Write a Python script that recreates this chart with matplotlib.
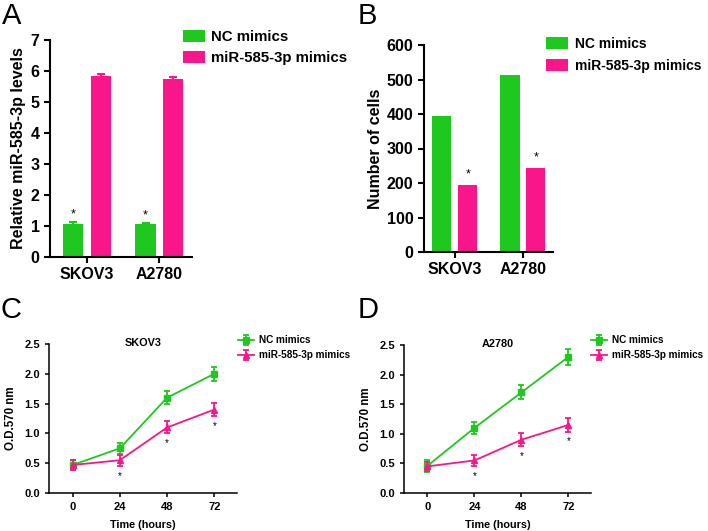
import numpy as np
import matplotlib.pyplot as plt

plt.rcParams['font.family'] = ['Liberation Sans', 'DejaVu Sans']
plt.rcParams['font.weight'] = 'bold'
plt.rcParams['axes.labelweight'] = 'bold'
plt.rcParams['axes.titleweight'] = 'bold'

GREEN = '#1ec81e'
PINK = '#f8168a'

groups = ['SKOV3', 'A2780']
labels = ['NC mimics', 'miR-585-3p mimics']

# panel A: relative miR-585-3p levels
a_nc = [1.05, 1.05]
a_nc_err = [0.07, 0.05]
a_mi = [5.85, 5.75]
a_mi_err = [0.04, 0.05]

# panel B: number of cells
b_nc = [393, 513]
b_mi = [193, 243]

# panels C, D: O.D.570 over time
hours = [0, 24, 48, 72]
c_nc = [0.47, 0.75, 1.60, 2.00]
c_nc_err = [0.09, 0.09, 0.11, 0.12]
c_mi = [0.47, 0.55, 1.10, 1.40]
c_mi_err = [0.08, 0.09, 0.10, 0.11]
d_nc = [0.46, 1.10, 1.70, 2.30]
d_nc_err = [0.10, 0.10, 0.12, 0.13]
d_mi = [0.45, 0.55, 0.90, 1.15]
d_mi_err = [0.08, 0.10, 0.11, 0.12]

W, H = 708, 531
fig = plt.figure(figsize=(W / 100, H / 100), dpi=100)


def box(l, r, t, b):
    return [l / W, 1 - b / H, (r - l) / W, (b - t) / H]


def style(ax, lw=1.5, size=11.5):
    for s in ['top', 'right']:
        ax.spines[s].set_visible(False)
    for s in ['left', 'bottom']:
        ax.spines[s].set_linewidth(lw)
    ax.tick_params(width=lw, length=4, labelsize=size)


x = np.arange(len(groups))
bw = 0.28
off = 0.19

# A
ax = fig.add_axes(box(50, 192, 40, 257))
ax.bar(x - off, a_nc, bw, color=GREEN, label=labels[0],
       yerr=a_nc_err, ecolor=GREEN, capsize=3, error_kw={'elinewidth': 1.5, 'capthick': 1.5})
ax.bar(x + off, a_mi, bw, color=PINK, label=labels[1],
       yerr=a_mi_err, ecolor=PINK, capsize=3, error_kw={'elinewidth': 1.5, 'capthick': 1.5})
for i in range(len(groups)):
    ax.text(x[i] - off, a_nc[i] + a_nc_err[i] + 0.05, '*', ha='center', va='bottom', fontsize=9, fontweight='normal')
ax.set_xlim(-0.51, 1.45)
ax.set_ylim(0, 7)
ax.set_yticks(range(0, 8))
ax.set_xticks(x)
ax.set_xticklabels(groups)
ax.set_ylabel('Relative miR-585-3p levels', fontsize=11.5, labelpad=3)
style(ax)
ax.legend(loc='upper left', bbox_to_anchor=(183 / W, 1 - 30 / H), bbox_transform=fig.transFigure,
          frameon=False, fontsize=10.8, handlelength=1.45, handleheight=0.85,
          handletextpad=0.45, labelspacing=0.45, borderaxespad=0, borderpad=0)

# B
ax = fig.add_axes(box(424, 553, 45, 252))
ax.bar(x - off, b_nc, bw, color=GREEN, label=labels[0])
ax.bar(x + off, b_mi, bw, color=PINK, label=labels[1])
for i in range(len(groups)):
    ax.text(x[i] + off, b_mi[i] + 14, '*', ha='center', va='bottom', fontsize=9, fontweight='normal')
ax.set_xlim(-0.45, 1.44)
ax.set_ylim(0, 600)
ax.set_yticks(range(0, 601, 100))
ax.set_xticks(x)
ax.set_xticklabels(groups)
ax.set_ylabel('Number of cells', fontsize=11.5, labelpad=3)
style(ax)
ax.legend(loc='upper left', bbox_to_anchor=(546 / W, 1 - 37 / H), bbox_transform=fig.transFigure,
          frameon=False, fontsize=10, handlelength=1.55, handleheight=0.9,
          handletextpad=0.55, labelspacing=0.55, borderaxespad=0, borderpad=0)


def growth(rect, nc, nc_err, mi, mi_err, title, leg_x):
    ax = fig.add_axes(rect)
    ax.errorbar(hours, nc, yerr=nc_err, color=GREEN, marker='s', markersize=4.5,
                lw=1.3, capsize=2.5, elinewidth=1.3, capthick=1.3, label=labels[0])
    ax.errorbar(hours, mi, yerr=mi_err, color=PINK, marker='^', markersize=4.5,
                lw=1.3, capsize=2.5, elinewidth=1.3, capthick=1.3, label=labels[1])
    for i in range(1, len(hours)):
        ax.text(hours[i], mi[i] - 0.27, '*', ha='center', va='center', fontsize=7, fontweight='normal')
    ax.set_xlim(-12, 83.5)
    ax.set_ylim(0, 2.5)
    ax.set_xticks(hours)
    ax.set_yticks(np.arange(0, 2.51, 0.5))
    ax.yaxis.set_major_formatter(plt.FormatStrFormatter('%.1f'))
    ax.set_xlabel('Time (hours)', fontsize=7.8, labelpad=6)
    ax.set_ylabel('O.D.570 nm', fontsize=8.3, labelpad=5)
    ax.set_title(title, fontsize=7.8, y=0.93)
    style(ax, lw=1.1, size=8)
    ax.tick_params(length=3)
    ax.legend(loc='upper left', bbox_to_anchor=(leg_x / W, 1 - 335 / H), bbox_transform=fig.transFigure,
              frameon=False, fontsize=7.2, handlelength=1.6, handletextpad=0.5,
              labelspacing=0.5, borderaxespad=0, borderpad=0)


growth(box(49, 237, 344, 493), c_nc, c_nc_err, c_mi, c_mi_err, 'SKOV3', 238)
growth(box(404, 591, 345, 493), d_nc, d_nc_err, d_mi, d_mi_err, 'A2780', 591)

for lab, px, py in [('A', 2, 2), ('B', 358, 2), ('C', 1, 296), ('D', 358, 296)]:
    fig.text(px / W, 1 - py / H, lab, fontsize=21, fontweight='normal', ha='left', va='top')

fig.savefig('out.png', dpi=100)
